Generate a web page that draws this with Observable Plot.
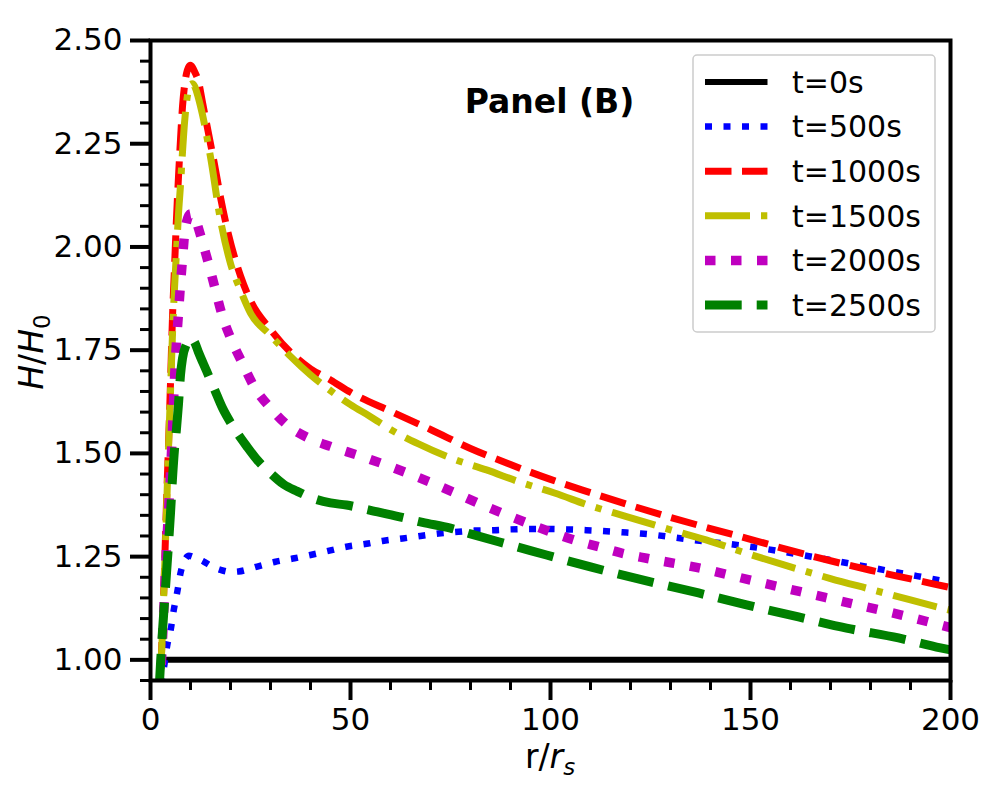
<!DOCTYPE html>
<html>
<head>
<meta charset="utf-8">
<script src="https://cdn.jsdelivr.net/npm/d3@7"></script>
<script src="https://cdn.jsdelivr.net/npm/@observablehq/plot@0.6"></script>
<style>
  html, body { margin: 0; padding: 0; background: white; }
  #chart { width: 1000px; height: 800px; }
</style>
</head>
<body>
<div id="chart"></div>
<script>
// ---------- data ----------
const labels = ["t=0s", "t=500s", "t=1000s", "t=1500s", "t=2000s", "t=2500s"];

const r0 = [2, 200];
const h0 = [1.0, 1.0];

const r500 = [1.5,2.5,3.5,4.2,5,5.8,6.7,7.5,8.5,9.6,11,13.3,15,17.5,20,22,26.7,31,36,40,45,49,54,58,63,67.5,72,77,81,86,90,95,100,104,109,113,118,122.5,136,150,167.5,186,200];
const h500 = [0.85,0.93,0.99,1.036,1.07,1.12,1.165,1.21,1.24,1.252,1.248,1.238,1.228,1.218,1.213,1.214,1.226,1.237,1.246,1.254,1.265,1.274,1.281,1.288,1.294,1.30,1.306,1.31,1.313,1.314,1.316,1.317,1.317,1.316,1.314,1.312,1.309,1.306,1.29,1.274,1.246,1.213,1.188];

const r1000 = [1.5,2,2.5,3,3.5,4,4.5,5,5.5,6,6.5,7,7.5,8,8.5,9,9.5,10,10.5,11,12,13,14,15,16,17.5,19.5,22.5,25,30,35,40,45,50,60,70,80,90,100,110,120,130,140,150,160,170,180,190,200];
const h1000 = [0.80,0.89,0.96,1.08,1.22,1.38,1.52,1.67,1.83,1.95,2.07,2.17,2.26,2.34,2.39,2.42,2.435,2.44,2.435,2.425,2.40,2.35,2.30,2.25,2.20,2.12,2.03,1.93,1.87,1.80,1.745,1.705,1.678,1.648,1.602,1.558,1.512,1.473,1.437,1.405,1.374,1.345,1.318,1.292,1.265,1.24,1.217,1.196,1.175];

const r1500 = [1.5,2,2.5,3,3.5,4,4.5,5,5.5,6,6.5,7,7.5,8,8.5,9,9.5,10,10.5,11,12,13,15,17.5,20,22.5,25,30,35,40,45,50,55,60,67,75,84,92.5,101,110,119,130,140,150,160,170,180,190,200];
const h1500 = [0.80,0.89,0.96,1.07,1.21,1.36,1.51,1.65,1.79,1.90,1.99,2.08,2.15,2.23,2.30,2.35,2.38,2.393,2.395,2.39,2.36,2.32,2.218,2.065,1.96,1.895,1.84,1.786,1.735,1.69,1.652,1.618,1.589,1.558,1.523,1.489,1.46,1.43,1.404,1.373,1.347,1.315,1.287,1.255,1.225,1.197,1.171,1.145,1.12];

const r2000 = [1.5,2,2.5,3,3.5,4,4.5,5,5.5,6,6.5,7,7.5,8,8.5,9,10,11,12,13,14.5,16,18,20,23,26,30,34,40,45,52,58,64,70,76,82,88,94,100,106,112,118,124,137.5,150,162.5,175,187.5,200];
const h2000 = [0.80,0.88,0.95,1.05,1.16,1.27,1.36,1.45,1.56,1.68,1.77,1.84,1.91,1.97,2.03,2.06,2.08,2.075,2.045,2.012,1.96,1.905,1.832,1.78,1.718,1.66,1.61,1.57,1.535,1.517,1.495,1.475,1.453,1.43,1.405,1.379,1.355,1.332,1.31,1.29,1.274,1.258,1.246,1.222,1.193,1.165,1.137,1.109,1.078];

const r2500 = [1.5,2,2.5,3,3.5,4,4.5,5,5.5,6,6.5,7,7.5,8,9,10,11,12,14,16,18,20,22,24,26.7,30,33.3,36.7,41,45,49,55,62,68,75,80,87,93,99,110,125,137,149,162,174,187,197.5,200];
const h2500 = [0.80,0.90,0.99,1.07,1.14,1.21,1.28,1.355,1.44,1.51,1.56,1.62,1.69,1.73,1.765,1.78,1.77,1.745,1.70,1.655,1.61,1.575,1.545,1.518,1.484,1.452,1.425,1.408,1.39,1.38,1.375,1.362,1.347,1.333,1.319,1.305,1.286,1.27,1.254,1.225,1.189,1.162,1.133,1.104,1.077,1.053,1.029,1.024];

const xMajor = [0, 50, 100, 150, 200];
const xMinor = [10,20,30,40,60,70,80,90,110,120,130,140,160,170,180,190];
const yMajor = [1.00, 1.25, 1.50, 1.75, 2.00, 2.25, 2.50];
const yMinor = [0.95,1.05,1.10,1.15,1.20,1.30,1.35,1.40,1.45,1.55,1.60,1.65,1.70,1.80,1.85,1.90,1.95,2.05,2.10,2.15,2.20,2.30,2.35,2.40,2.45];

// ---------- styles ----------
const styles = [
  {stroke: "#000000", width: 6,   dash: null},
  {stroke: "#0000ff", width: 6.5, dash: "7,11.5"},
  {stroke: "#ff0000", width: 7,   dash: "26.5,10.5"},
  {stroke: "#bfbf00", width: 7,   dash: "45,11,6.3,11"},
  {stroke: "#bf00bf", width: 9.5, dash: "10.5,15.5"},
  {stroke: "#008000", width: 9,   dash: "36.7,15"}
];

const seriesR = [r0, r500, r1000, r1500, r2000, r2500];
const seriesH = [h0, h500, h1000, h1500, h2000, h2500];
const tables = seriesR.map((rs, i) => rs.map((r, j) => ({r, h: seriesH[i][j]})));

const lineMarks = tables.map((tbl, i) => Plot.line(tbl, {
  x: "r", y: "h",
  stroke: styles[i].stroke,
  strokeWidth: styles[i].width,
  strokeDasharray: styles[i].dash,
  strokeLinecap: "butt",
  strokeLinejoin: "round",
  curve: "monotone-x",
  clip: true
}));

const FONT = "DejaVu Sans";

const chart = Plot.plot({
  width: 1000,
  height: 800,
  marginLeft: 150,
  marginRight: 50,
  marginTop: 40,
  marginBottom: 120,
  x: {domain: [0, 200]},
  y: {domain: [0.95, 2.5]},
  style: {fontFamily: FONT, fontSize: "31px", color: "black", background: "white", overflow: "visible"},
  marks: [
    ...lineMarks,
    Plot.frame({stroke: "black", strokeWidth: 4}),
    Plot.axisX({ticks: xMinor, tickSize: 10, strokeWidth: 3, tickFormat: () => "", label: null}),
    Plot.axisX({ticks: xMajor, tickSize: 20, strokeWidth: 4, tickPadding: 7, tickFormat: d => String(d), label: null, fontSize: 31}),
    Plot.axisY({ticks: yMinor, tickSize: 10, strokeWidth: 3, tickFormat: () => "", label: null}),
    Plot.axisY({ticks: yMajor, tickSize: 20, strokeWidth: 4, tickPadding: 8, tickFormat: d3.format(".2f"), label: null, fontSize: 31})
  ]
});

document.getElementById("chart").appendChild(chart);

// ---------- annotations, axis labels, legend ----------
const svg = d3.select(chart);

// Panel label
svg.append("text")
  .attr("x", 549.5).attr("y", 113)
  .attr("text-anchor", "middle")
  .attr("font-family", FONT).attr("font-weight", "bold").attr("font-size", 33)
  .attr("fill", "black")
  .text("Panel (B)");

// x label  r/r_s
const xl = svg.append("text")
  .attr("x", 550).attr("y", 768)
  .attr("text-anchor", "middle")
  .attr("font-family", FONT).attr("font-size", 33).attr("fill", "black");
xl.append("tspan").text("r/");
xl.append("tspan").attr("font-style", "italic").text("r");
xl.append("tspan").attr("font-style", "italic").attr("font-size", 23).attr("dy", 7).text("s");

// y label  H/H_0
const yl = svg.append("text")
  .attr("transform", "translate(43,352) rotate(-90)")
  .attr("text-anchor", "middle")
  .attr("font-family", FONT).attr("font-size", 33).attr("fill", "black");
yl.append("tspan").attr("font-style", "italic").text("H");
yl.append("tspan").text("/");
yl.append("tspan").attr("font-style", "italic").text("H");
yl.append("tspan").attr("font-size", 23).attr("dy", 7).text("0");

// legend
const lg = svg.append("g");
lg.append("rect")
  .attr("x", 693).attr("y", 55).attr("width", 242).attr("height", 277)
  .attr("rx", 4).attr("fill", "white").attr("fill-opacity", 0.8)
  .attr("stroke", "#cccccc").attr("stroke-width", 1.5);
labels.forEach((lab, i) => {
  const cy = 82 + i * 44.6;
  lg.append("line")
    .attr("x1", 705).attr("x2", 767.5).attr("y1", cy).attr("y2", cy)
    .attr("stroke", styles[i].stroke).attr("stroke-width", styles[i].width)
    .attr("stroke-dasharray", styles[i].dash).attr("stroke-linecap", "butt");
  lg.append("text")
    .attr("x", 792).attr("y", cy).attr("dy", "0.36em")
    .attr("text-anchor", "start")
    .attr("font-family", FONT).attr("font-size", 30).attr("fill", "black")
    .text(lab);
});
</script>
</body>
</html>
